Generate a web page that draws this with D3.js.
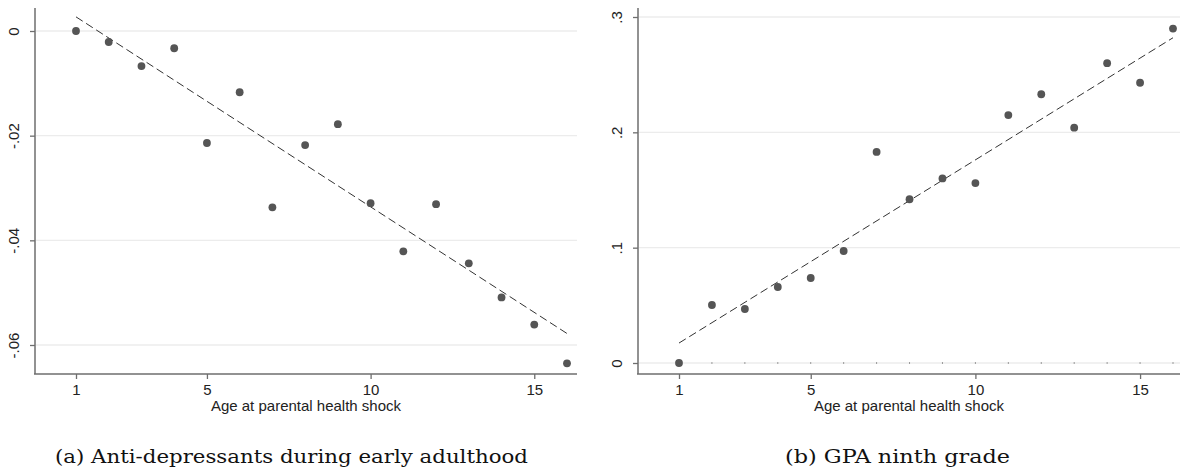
<!DOCTYPE html>
<html><head><meta charset="utf-8">
<script src="https://cdn.jsdelivr.net/npm/d3@7"></script>
<style>body{margin:0;background:#fff}svg{display:block}</style>
</head><body>
<svg id="c" width="1182" height="470"></svg>
<script>
// Data
const ages = [1,2,3,4,5,6,7,8,9,10,11,12,13,14,15,16];
const antiDep = [0,-0.0021,-0.0067,-0.0033,-0.0214,-0.0117,-0.0337,-0.0218,-0.0178,-0.0329,-0.0421,-0.0331,-0.0444,-0.0509,-0.0561,-0.0635];
const gpa = [0,0.0503,0.0468,0.0659,0.0737,0.0971,0.183,0.142,0.160,0.156,0.215,0.233,0.204,0.260,0.243,0.290];
const fitAntiDep = [0.0027,-0.0578]; // fitted value at age 1 and age 16
const fitGpa = [0.0173,0.282];
const xTicks = [1,5,10,15];
const yTicksA = [0,-0.02,-0.04,-0.06];
const yTickLabelsA = ["0","-.02","-.04","-.06"];
const yTicksB = [0,0.1,0.2,0.3];
const yTickLabelsB = ["0",".1",".2",".3"];
const xTitle = "Age at parental health shock";
const captions = ["(a) Anti-depressants during early adulthood","(b) GPA ninth grade"];

const svg = d3.select("#c");
const axisCol = "#6e6e6e";
const sans = "Liberation Sans, Arial, sans-serif";

function panel(cfg){
  const g = svg.append("g");
  const x = d3.scaleLinear().domain([1,16]).range([cfg.x1,cfg.x16]);
  const y = d3.scaleLinear().domain(cfg.ydom).range(cfg.yrng);
  // gridlines
  g.selectAll("line.grid").data(cfg.yt).enter().append("line")
    .attr("x1",cfg.axX+1).attr("x2",cfg.right).attr("y1",d=>y(d)).attr("y2",d=>y(d))
    .attr("stroke","#ececec").attr("stroke-width",1.3);
  // y axis
  const ya = d3.axisLeft(y).tickValues(cfg.yt).tickFormat((d,i)=>cfg.ytl[i]).tickSize(5).tickPadding(6);
  const yg = g.append("g").attr("transform",`translate(${cfg.axX},0)`).call(ya);
  yg.select(".domain").remove();
  yg.append("line").attr("x1",0).attr("x2",0).attr("y1",cfg.top).attr("y2",cfg.axY).attr("stroke",axisCol).attr("stroke-width",1.5);
  yg.selectAll(".tick line").attr("stroke",axisCol).attr("stroke-width",1.3);
  yg.selectAll(".tick text").attr("transform","rotate(-90)").attr("x",0).attr("y",-16)
    .attr("text-anchor","middle").attr("dy","0")
    .style("font-family",sans).style("font-size","15px").attr("fill","#222");
  // x axis
  const xa = d3.axisBottom(x).tickValues(xTicks).tickFormat(d3.format("d")).tickSize(5).tickPadding(5);
  const xg = g.append("g").attr("transform",`translate(0,${cfg.axY})`).call(xa);
  xg.select(".domain").remove();
  xg.append("line").attr("x1",cfg.axX-1).attr("x2",cfg.right).attr("y1",0).attr("y2",0).attr("stroke",axisCol).attr("stroke-width",1.5);
  xg.selectAll(".tick line").attr("stroke",axisCol).attr("stroke-width",1.3);
  xg.selectAll(".tick text").style("font-family",sans).style("font-size","15px").attr("fill","#222");
  // x title
  g.append("text").attr("x",(cfg.axX+cfg.right)/2).attr("y",cfg.axY+37).attr("text-anchor","middle")
    .style("font-family",sans).style("font-size","15px").attr("fill","#222").text(xTitle);
  // minor marks on zero line (panel b)
  if(cfg.zeroMarks){
    g.selectAll("line.zm").data(ages.slice(1)).enter().append("line")
      .attr("x1",d=>x(d)).attr("x2",d=>x(d)).attr("y1",y(0)-1).attr("y2",y(0)+1)
      .attr("stroke","#999").attr("stroke-width",1);
  }
  // fit line
  g.append("line").attr("x1",x(1)).attr("x2",x(16)).attr("y1",y(cfg.fit[0])).attr("y2",y(cfg.fit[1]))
    .attr("stroke","#333").attr("stroke-width",1).attr("stroke-dasharray","8,4");
  // points
  g.selectAll("circle").data(ages).enter().append("circle")
    .attr("cx",d=>x(d)).attr("cy",(d,i)=>y(cfg.vals[i])).attr("r",3.9).attr("fill","#555");
  // caption
  svg.append("text").attr("x",cfg.capX).attr("y",463).attr("text-anchor","middle")
    .attr("textLength",cfg.capW).attr("lengthAdjust","spacingAndGlyphs")
    .style("font-family","DejaVu Serif, serif").style("font-size","19px").attr("fill","#111").text(cfg.cap);
}

panel({x1:76,x16:567,axX:35,right:577,top:8,axY:374,ydom:[0,-0.06],yrng:[31,345],yt:yTicksA,ytl:yTickLabelsA,
  vals:antiDep,fit:fitAntiDep,cap:captions[0],capX:291.5,capW:473,zeroMarks:false});
panel({x1:679,x16:1173,axX:638,right:1180,top:8,axY:374,ydom:[0,0.3],yrng:[363,17],yt:yTicksB,ytl:yTickLabelsB,
  vals:gpa,fit:fitGpa,cap:captions[1],capX:897.5,capW:225,zeroMarks:true});
</script>
</body></html>
